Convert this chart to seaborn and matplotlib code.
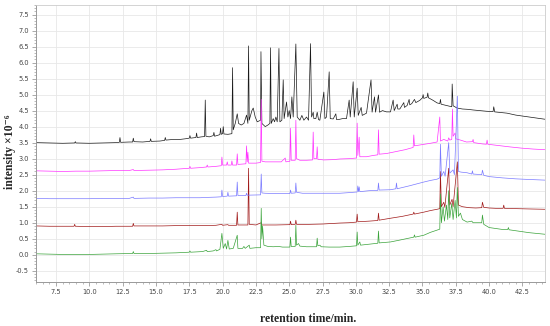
import matplotlib
matplotlib.use("Agg")
import matplotlib.pyplot as plt
import matplotlib.ticker as mticker
import seaborn as sns

# retention time (min) / intensity (x10^-6) pairs
black = [(6.0, 3.50), (7.0, 3.49), (8.0, 3.48), (8.9, 3.49), (8.95, 3.53), (9.0, 3.49), (10.0, 3.48),
         (11.0, 3.49), (12.0, 3.50), (12.25, 3.51), (12.3, 3.66), (12.35, 3.51), (13.0, 3.52),
         (13.25, 3.52), (13.3, 3.64), (13.35, 3.53), (14.0, 3.52), (14.55, 3.54), (14.6, 3.62),
         (14.65, 3.54), (15.3, 3.55), (15.65, 3.57), (15.7, 3.66), (15.75, 3.58), (16.3, 3.60),
         (16.8, 3.60), (17.2, 3.62), (17.5, 3.64), (17.55, 3.72), (17.6, 3.64), (18.0, 3.66),
         (18.05, 3.80), (18.1, 3.66), (18.4, 3.68), (18.65, 3.69), (18.7, 4.83), (18.75, 3.70),
         (19.0, 3.68), (19.3, 3.72), (19.35, 3.82), (19.4, 3.70), (19.8, 3.75), (19.85, 3.95),
         (19.9, 3.76), (20.0, 3.78), (20.05, 4.00), (20.1, 3.77), (20.4, 3.76), (20.7, 3.78),
         (20.75, 5.84), (20.8, 3.90), (20.95, 4.10), (21.1, 4.40), (21.2, 4.10), (21.4, 4.05),
         (21.6, 4.10), (21.8, 4.36), (21.9, 4.10), (21.95, 6.52), (22.0, 4.20), (22.2, 4.50),
         (22.3, 4.58), (22.45, 4.30), (22.6, 4.15), (22.85, 4.20), (22.88, 6.34), (22.95, 4.10),
         (23.2, 4.00), (23.4, 4.05), (23.55, 4.10), (23.6, 6.46), (23.65, 4.10), (23.8, 4.25),
         (23.9, 4.15), (24.0, 4.30), (24.1, 4.15), (24.23, 6.44), (24.3, 4.15), (24.45, 4.20),
         (24.55, 5.46), (24.62, 4.25), (24.8, 4.77), (24.9, 4.30), (25.0, 4.50), (25.1, 4.25),
         (25.2, 4.93), (25.3, 4.30), (25.5, 6.58), (25.6, 4.30), (25.8, 4.20), (25.95, 4.35),
         (26.1, 4.20), (26.3, 4.30), (26.45, 4.20), (26.6, 6.59), (26.68, 4.30), (26.8, 4.45),
         (26.85, 4.25), (27.0, 4.25), (27.1, 4.45), (27.2, 4.22), (27.3, 4.20), (27.6, 5.08),
         (27.68, 4.25), (27.8, 4.30), (28.0, 5.71), (28.08, 4.25), (28.3, 4.24), (28.5, 4.40),
         (28.55, 4.22), (28.7, 4.22), (29.0, 4.25), (29.3, 4.25), (29.5, 4.83), (29.58, 4.30),
         (29.8, 5.40), (29.88, 4.30), (30.1, 5.20), (30.18, 4.35), (30.4, 4.60), (30.48, 4.35),
         (30.8, 4.42), (31.14, 5.46), (31.22, 4.45), (31.4, 4.93), (31.48, 4.45), (31.7, 4.99),
         (31.78, 4.45), (32.0, 4.50), (32.3, 4.46), (32.6, 4.46), (32.8, 4.83), (32.88, 4.50),
         (33.1, 4.70), (33.15, 4.55), (33.3, 4.55), (33.6, 4.75), (33.65, 4.60), (33.85, 4.66),
         (34.0, 4.85), (34.05, 4.68), (34.2, 4.72), (34.4, 4.85), (34.5, 4.75), (34.8, 4.82),
         (35.0, 4.90), (35.05, 5.00), (35.1, 4.88), (35.35, 4.92), (35.4, 5.05), (35.45, 4.90),
         (35.8, 4.82), (36.1, 4.74), (36.3, 4.72), (36.35, 4.85), (36.4, 4.70), (36.9, 4.65),
         (37.2, 4.62), (37.23, 5.33), (37.3, 4.65), (37.6, 4.58), (38.0, 4.55), (38.4, 4.54),
         (38.8, 4.52), (39.3, 4.50), (39.8, 4.48), (40.3, 4.47), (40.35, 4.62), (40.42, 4.46),
         (41.35, 4.42), (42.0, 4.36), (43.0, 4.30), (44.2, 4.23)]

magenta = [(6.0, 2.62), (7.0, 2.61), (8.0, 2.60), (9.0, 2.61), (10.0, 2.61), (11.0, 2.62), (12.0, 2.63),
           (13.0, 2.63), (13.3, 2.66), (13.35, 2.63), (14.5, 2.64), (15.5, 2.65), (16.5, 2.67),
           (16.8, 2.68), (17.5, 2.70), (17.55, 2.76), (17.6, 2.70), (18.3, 2.72), (18.8, 2.74),
           (18.85, 2.80), (18.9, 2.74), (19.5, 2.76), (19.9, 2.78), (19.95, 3.05), (20.0, 2.80),
           (20.3, 2.80), (20.35, 2.90), (20.4, 2.80), (20.65, 2.80), (20.7, 2.93), (20.75, 2.80),
           (21.05, 2.80), (21.1, 3.15), (21.15, 2.82), (21.75, 2.84), (21.8, 3.40), (21.85, 2.90),
           (21.9, 3.20), (21.95, 2.86), (22.5, 2.86), (22.85, 2.88), (22.9, 4.85), (22.95, 2.92),
           (23.2, 2.90), (23.8, 2.90), (24.4, 2.90), (24.7, 3.02), (24.75, 2.90), (25.05, 2.92),
           (25.1, 3.95), (25.15, 2.95), (25.45, 2.95), (25.5, 4.20), (25.55, 3.00), (25.8, 2.95),
           (26.3, 2.95), (26.75, 2.96), (26.8, 3.83), (26.85, 3.00), (27.05, 3.00), (27.1, 3.37),
           (27.15, 2.98), (27.6, 2.96), (28.3, 2.97), (28.8, 2.99), (29.5, 3.00), (30.05, 3.02),
           (30.1, 4.11), (30.15, 3.10), (30.25, 3.67), (30.3, 3.06), (30.8, 3.06), (31.3, 3.10),
           (31.65, 3.12), (31.7, 3.90), (31.75, 3.14), (32.3, 3.16), (33.0, 3.22), (33.7, 3.28),
           (34.3, 3.35), (34.35, 3.74), (34.4, 3.40), (35.0, 3.44), (35.6, 3.48), (36.1, 3.52),
           (36.3, 4.30), (36.35, 3.55), (36.6, 3.60), (36.9, 3.55), (36.97, 3.65), (37.05, 3.58),
           (37.2, 3.60), (37.25, 4.55), (37.3, 3.70), (37.45, 3.80), (37.5, 3.62), (37.85, 3.58),
           (38.3, 3.52), (38.75, 3.53), (38.8, 3.60), (38.85, 3.50), (39.5, 3.46), (39.8, 3.45),
           (39.85, 3.58), (39.9, 3.45), (40.5, 3.42), (41.5, 3.37), (42.4, 3.33), (43.3, 3.30),
           (44.2, 3.28)]

blue = [(6.0, 1.76), (7.0, 1.75), (8.0, 1.75), (9.0, 1.75), (10.0, 1.75), (11.0, 1.76), (12.0, 1.76),
        (13.0, 1.76), (13.3, 1.80), (13.35, 1.76), (14.5, 1.77), (15.5, 1.77), (16.5, 1.78),
        (17.5, 1.78), (18.3, 1.78), (18.8, 1.79), (19.5, 1.80), (19.9, 1.81), (19.95, 2.02),
        (20.0, 1.82), (20.35, 1.83), (20.4, 1.95), (20.45, 1.83), (21.05, 1.84), (21.1, 2.27),
        (21.15, 1.85), (21.75, 1.85), (21.8, 1.92), (21.85, 1.86), (22.85, 1.87), (22.9, 2.52),
        (22.95, 1.93), (23.2, 1.92), (24.0, 1.91), (25.05, 1.91), (25.1, 2.02), (25.15, 1.92),
        (25.45, 1.93), (25.5, 2.24), (25.55, 1.95), (26.0, 1.92), (27.0, 1.92), (28.0, 1.92),
        (28.8, 1.92), (29.5, 1.94), (30.1, 1.96), (30.15, 2.15), (30.2, 1.97), (30.25, 2.12),
        (30.3, 1.97), (31.0, 2.00), (31.65, 2.01), (31.7, 2.24), (31.75, 2.02), (32.6, 2.03),
        (33.0, 2.06), (33.05, 2.24), (33.1, 2.06), (34.0, 2.15), (35.1, 2.27), (35.6, 2.32),
        (36.1, 2.36), (36.3, 2.40), (36.35, 3.45), (36.42, 2.45), (36.6, 2.60), (36.7, 2.45),
        (36.97, 3.50), (37.05, 2.55), (37.3, 2.65), (37.4, 2.50), (37.62, 4.95), (37.7, 2.60),
        (37.9, 2.58), (38.35, 2.56), (38.7, 2.52), (38.75, 2.62), (38.8, 2.52), (39.45, 2.50),
        (39.5, 2.64), (39.6, 2.48), (40.0, 2.44), (41.0, 2.40), (42.0, 2.37), (43.0, 2.35),
        (44.2, 2.33)]

red = [(6.0, 0.90), (7.0, 0.89), (8.0, 0.89), (8.85, 0.89), (8.9, 0.95), (8.95, 0.89), (10.0, 0.88),
       (11.0, 0.88), (12.0, 0.89), (13.25, 0.89), (13.3, 0.98), (13.35, 0.90), (14.5, 0.90),
       (15.5, 0.90), (16.5, 0.91), (17.5, 0.91), (18.5, 0.91), (19.5, 0.92), (19.95, 0.95),
       (20.0, 0.92), (20.4, 0.94), (20.45, 0.92), (21.05, 0.92), (21.1, 1.33), (21.15, 0.93),
       (21.9, 0.93), (21.95, 2.70), (22.0, 0.95), (22.5, 0.93), (22.9, 1.00), (22.95, 0.93),
       (24.0, 0.93), (25.05, 0.94), (25.1, 1.05), (25.15, 0.94), (25.45, 0.95), (25.5, 1.08),
       (25.55, 0.95), (26.5, 0.95), (27.5, 0.96), (28.8, 0.99), (29.5, 1.00), (30.05, 1.02),
       (30.1, 1.27), (30.15, 1.03), (31.0, 1.05), (31.65, 1.07), (31.7, 1.30), (31.75, 1.08),
       (32.6, 1.14), (33.5, 1.20), (34.3, 1.27), (34.35, 1.33), (34.4, 1.27), (35.1, 1.33),
       (35.6, 1.38), (36.1, 1.42), (36.3, 1.44), (36.35, 2.60), (36.42, 1.50), (36.6, 1.64),
       (36.68, 1.48), (36.97, 2.70), (37.05, 1.55), (37.22, 1.73), (37.3, 1.50), (37.62, 2.90),
       (37.7, 1.55), (38.0, 1.50), (38.5, 1.47), (39.0, 1.46), (39.45, 1.47), (39.5, 1.64),
       (39.6, 1.48), (40.0, 1.46), (40.5, 1.45), (41.05, 1.45), (41.1, 1.55), (41.15, 1.45),
       (42.0, 1.44), (43.0, 1.43), (44.2, 1.42)]

green = [(6.0, 0.03), (7.0, 0.02), (8.0, 0.01), (9.0, 0.01), (10.0, 0.01), (11.0, 0.02), (12.0, 0.03),
         (13.25, 0.04), (13.3, 0.10), (13.35, 0.04), (14.5, 0.04), (15.5, 0.05), (16.5, 0.06),
         (17.5, 0.08), (17.55, 0.12), (17.6, 0.08), (18.5, 0.10), (18.8, 0.14), (18.85, 0.10),
         (19.3, 0.12), (19.5, 0.16), (19.55, 0.12), (19.8, 0.17), (19.95, 0.67), (20.05, 0.20),
         (20.2, 0.35), (20.3, 0.18), (20.4, 0.45), (20.5, 0.18), (20.8, 0.20), (21.1, 0.61),
         (21.15, 0.20), (21.5, 0.20), (21.6, 0.26), (21.7, 0.20), (22.0, 0.30), (22.05, 0.20),
         (22.5, 0.22), (22.85, 0.22), (22.9, 1.45), (22.95, 0.50), (23.0, 0.90), (23.1, 0.30),
         (23.4, 0.26), (23.8, 0.25), (24.2, 0.26), (24.5, 0.24), (25.05, 0.24), (25.1, 0.55),
         (25.15, 0.26), (25.45, 0.26), (25.5, 0.92), (25.55, 0.30), (25.7, 0.35), (25.8, 0.27),
         (26.3, 0.25), (27.05, 0.25), (27.1, 0.52), (27.15, 0.28), (27.3, 0.30), (27.4, 0.25),
         (28.0, 0.24), (28.8, 0.24), (29.5, 0.26), (30.05, 0.28), (30.1, 0.71), (30.15, 0.30),
         (30.3, 0.40), (30.35, 0.30), (31.0, 0.33), (31.65, 0.36), (31.7, 0.74), (31.75, 0.37),
         (32.6, 0.40), (33.2, 0.45), (34.0, 0.52), (34.35, 0.55), (34.4, 0.62), (34.45, 0.55),
         (35.1, 0.61), (35.6, 0.70), (36.1, 0.77), (36.3, 0.80), (36.35, 1.90), (36.42, 1.00),
         (36.55, 1.50), (36.65, 1.05), (36.8, 1.55), (36.9, 1.10), (36.97, 2.00), (37.05, 1.15),
         (37.2, 1.60), (37.3, 1.10), (37.45, 1.70), (37.55, 1.15), (37.62, 2.10), (37.7, 1.20),
         (37.85, 1.30), (38.0, 1.10), (38.35, 1.02), (38.7, 1.05), (38.8, 1.00), (39.45, 1.00),
         (39.5, 1.24), (39.6, 0.95), (40.0, 0.85), (40.5, 0.82), (41.0, 0.79), (41.4, 0.79),
         (41.45, 0.85), (41.5, 0.78), (42.0, 0.75), (43.0, 0.69), (44.2, 0.64)]

traces = [(black, "#1a1a1a"), (magenta, "#ff33ff"), (red, "#a01818"),
          (green, "#3aa33a"), (blue, "#7a7aff")]

sns.set_style("whitegrid")
plt.rcParams["axes.unicode_minus"] = False

fig = plt.figure(figsize=(5.5, 3.26), dpi=100)
ax = fig.add_axes([0.0655, 0.134, 0.9255, 0.851])

for pts, col in traces:
    t, y = zip(*pts)
    sns.lineplot(x=list(t), y=list(y), color=col, linewidth=0.5, sort=False,
                 estimator=None, ax=ax)

ax.set_xlim(6.0, 44.2)
ax.set_ylim(-0.86, 7.8)
ax.xaxis.set_major_locator(mticker.MultipleLocator(2.5))
ax.xaxis.set_minor_locator(mticker.MultipleLocator(0.5))
ax.yaxis.set_major_locator(mticker.MultipleLocator(0.5))
ax.yaxis.set_minor_locator(mticker.MultipleLocator(0.1))
ax.xaxis.set_major_formatter(mticker.FormatStrFormatter("%.1f"))
ax.yaxis.set_major_formatter(mticker.FormatStrFormatter("%.1f"))

ax.grid(True, which="major", color="#e8e8e8", linewidth=0.6)
ax.tick_params(which="both", direction="out", color="#888888", labelcolor="#444444",
               labelsize=4.8, bottom=True, left=True)
ax.tick_params(which="major", length=3, width=0.5, pad=2)
ax.tick_params(which="minor", length=1.6, width=0.4)
for side in ["left", "bottom"]:
    ax.spines[side].set_color("#999999")
    ax.spines[side].set_linewidth(0.7)
for side in ["top", "right"]:
    ax.spines[side].set_color("#cccccc")
    ax.spines[side].set_linewidth(0.6)
ax.set_xlabel("")
ax.set_ylabel("")

lab = dict(fontsize=8.5, fontweight="bold", family=["Liberation Serif", "DejaVu Serif"])
fig.text(308 / 550, 1 - 319 / 326, "retention time/min.", ha="center", va="center", **lab)
fig.text(10 / 550, 1 - 152 / 326, "intensity \u00d710\u207b\u2076", ha="center", va="center",
         rotation=90, **lab)

fig.savefig("out.png", dpi=100)
